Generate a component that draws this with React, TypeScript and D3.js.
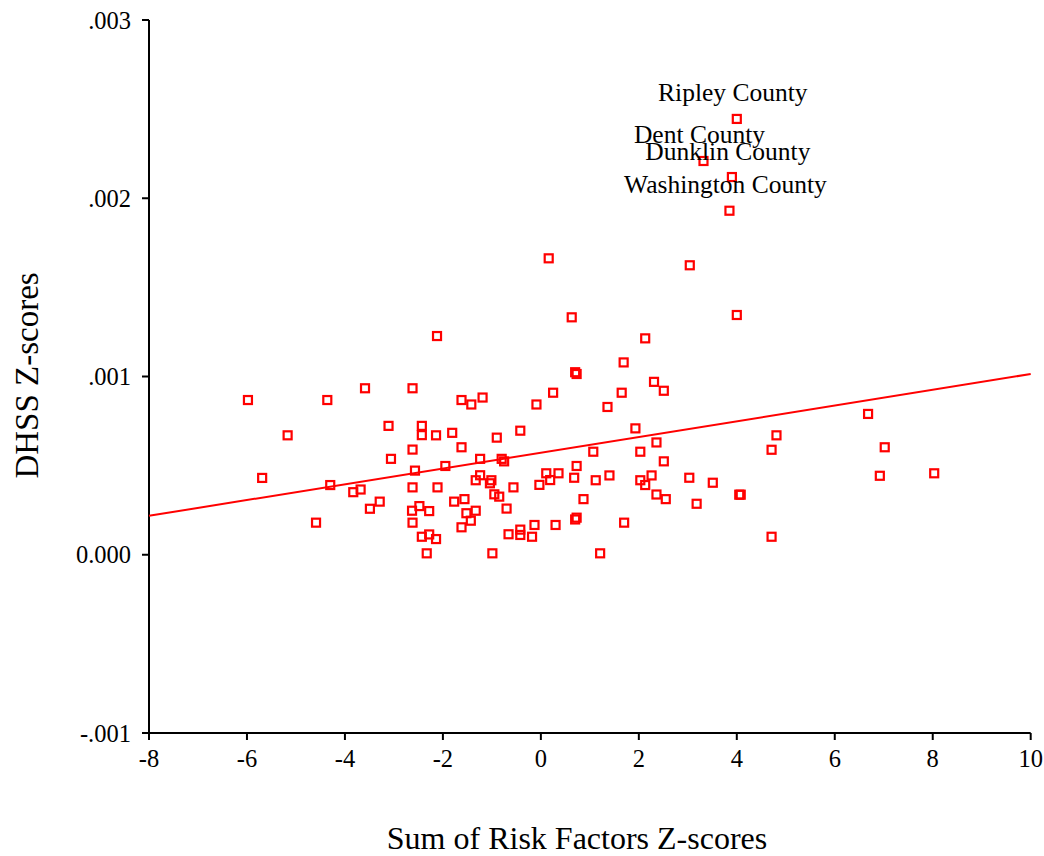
import React from "react";
import * as d3 from "d3";

// Sum of Risk Factors Z-scores (x) and DHSS Z-scores (y) per county
const riskSum: number[] = [
  -5.98, -5.69, -5.17, -4.59, -4.36, -4.30, -3.83, -3.68, -3.59, -3.49,
  -3.29, -3.11, -3.06, -2.62, -2.62, -2.57, -2.62, -2.63, -2.62, -2.48,
  -2.43, -2.43, -2.43, -2.28, -2.28, -2.33, -2.14, -2.14, -2.11, -2.12,
  -1.95, -1.81, -1.77, -1.62, -1.62, -1.62, -1.56, -1.52, -1.43, -1.42,
  -1.33, -1.33, -1.24, -1.19, -1.24, -1.01, -1.04, -0.99, -0.95, -0.85,
  -0.90, -0.80, -0.75, -0.70, -0.66, -0.56, -0.42, -0.42, -0.42, -0.18,
  -0.13, -0.09, -0.03, 0.11, 0.16, 0.19, 0.25, 0.30, 0.36, 0.63,
  0.68, 0.70, 0.73, 0.73, 0.70, 0.73, 0.87, 1.07, 1.12, 1.21,
  1.36, 1.40, 1.65, 1.69, 1.70, 1.93, 2.03, 2.03, 2.13, 2.13,
  2.26, 2.31, 2.36, 2.36, 2.51, 2.51, 2.55, 3.03, 3.04, 3.18,
  3.51, 4.00, 4.05, 4.08, 4.71, 4.81, 4.71, 6.68, 7.02, 6.92,
  8.03,
];
const dhssZ: number[] = [
  0.000868, 0.000431, 0.000670, 0.000180, 0.000868, 0.000391, 0.000351, 0.000366, 0.000934, 0.000258,
  0.000298, 0.000723, 0.000538, 0.000934, 0.000590, 0.000472, 0.000378, 0.000247, 0.000180, 0.000273,
  0.000723, 0.000671, 0.000101, 0.000245, 0.000114, 0.000008, 0.000088, 0.000670, 0.000378, 0.001227,
  0.000498, 0.000684, 0.000298, 0.000868, 0.000603, 0.000154, 0.000312, 0.000233, 0.000191, 0.000843,
  0.000247, 0.000418, 0.000446, 0.000882, 0.000538, 0.000418, 0.000401, 0.000008, 0.000339, 0.000326,
  0.000657, 0.000538, 0.000524, 0.000259, 0.000115, 0.000378, 0.000696, 0.000141, 0.000111, 0.000101,
  0.000167, 0.000843, 0.000392, 0.000457, 0.001663, 0.000419, 0.000909, 0.000167, 0.000457, 0.001332,
  0.000432, 0.001024, 0.001014, 0.000498, 0.000198, 0.000208, 0.000312, 0.000578, 0.000418, 0.000008,
  0.000829, 0.000445, 0.000909, 0.001079, 0.000180, 0.000709, 0.000578, 0.000418, 0.000391, 0.001214,
  0.000445, 0.000970, 0.000630, 0.000338, 0.000920, 0.000524, 0.000312, 0.000432, 0.001624, 0.000286,
  0.000404, 0.001345, 0.000337, 0.000337, 0.000589, 0.000670, 0.000101, 0.000790, 0.000603, 0.000443,
  0.000457,
];

// Labelled counties
const labeledNames: string[] = ["Ripley County", "Dent County", "Dunklin County", "Washington County"];
const labeledX: number[] = [4.0, 3.32, 3.9, 3.85];
const labeledY: number[] = [0.002445, 0.002209, 0.002119, 0.00193];

// Linear fit line
const fitIntercept = 0.000572;
const fitSlope = 0.0000442;

// Axis ticks
const xTicks: number[] = [-8, -6, -4, -2, 0, 2, 4, 6, 8, 10];
const xTickLabels: string[] = ["-8", "-6", "-4", "-2", "0", "2", "4", "6", "8", "10"];
const yTicks: number[] = [0.003, 0.002, 0.001, 0.0, -0.001];
const yTickLabels: string[] = [".003", ".002", ".001", "0.000", "-.001"];

const xTitle = "Sum of Risk Factors Z-scores";
const yTitle = "DHSS Z-scores";

const W = 1044;
const H = 856;
const FONT = "'Liberation Serif', 'Times New Roman', serif";
const RED = "#ff0000";

export default function App() {
  const x = d3.scaleLinear().domain([-8, 10]).range([149, 1030.7]);
  const y = d3.scaleLinear().domain([-0.001, 0.003]).range([733, 20]);

  const fitLine = d3
    .line<number>()
    .x((d) => x(d))
    .y((d) => y(fitIntercept + fitSlope * d));

  const sq = 8;

  return (
    <svg
      width={W}
      height={H}
      style={{ position: "absolute", left: 0, top: 0, background: "#fff" }}
      fontFamily={FONT}
    >
      <rect x={0} y={0} width={W} height={H} fill="#fff" />
      {/* axes */}
      <line x1={x(-8)} x2={x(-8)} y1={y(0.003)} y2={y(-0.001)} stroke="#000" strokeWidth={2} />
      <line x1={x(-8)} x2={x(10)} y1={y(-0.001)} y2={y(-0.001)} stroke="#000" strokeWidth={2} />
      {yTicks.map((t, i) => (
        <g key={"yt" + i}>
          <line x1={x(-8) - 7} x2={x(-8)} y1={y(t)} y2={y(t)} stroke="#000" strokeWidth={2} />
          <text x={131} y={y(t)} dy="0.35em" textAnchor="end" fontSize={24.5} fill="#000">
            {yTickLabels[i]}
          </text>
        </g>
      ))}
      {xTicks.map((t, i) => (
        <g key={"xt" + i}>
          <line x1={x(t)} x2={x(t)} y1={y(-0.001)} y2={y(-0.001) + 7} stroke="#000" strokeWidth={2} />
          <text x={x(t)} y={767} textAnchor="middle" fontSize={24.5} fill="#000">
            {xTickLabels[i]}
          </text>
        </g>
      ))}
      {/* fit line */}
      <path d={fitLine([-8, 10]) || ""} fill="none" stroke={RED} strokeWidth={2} />
      {/* points */}
      {riskSum.map((v, i) => (
        <rect
          key={"p" + i}
          x={x(v) - sq / 2}
          y={y(dhssZ[i]) - sq / 2}
          width={sq}
          height={sq}
          fill="none"
          stroke={RED}
          strokeWidth={2.2}
        />
      ))}
      {labeledX.map((v, i) => (
        <g key={"l" + i}>
          <rect
            x={x(v) - sq / 2}
            y={y(labeledY[i]) - sq / 2}
            width={sq}
            height={sq}
            fill="none"
            stroke={RED}
            strokeWidth={2.2}
          />
          <text
            x={x(v) - 4}
            y={y(labeledY[i]) - 17.5}
            textAnchor="middle"
            fontSize={25.5}
            fill="#000"
          >
            {labeledNames[i]}
          </text>
        </g>
      ))}
      {/* titles */}
      <text x={577} y={849} textAnchor="middle" fontSize={32} fill="#000">
        {xTitle}
      </text>
      <text
        transform={`translate(37.7, 375.5) rotate(-90)`}
        textAnchor="middle"
        fontSize={33}
        fill="#000"
      >
        {yTitle}
      </text>
    </svg>
  );
}
